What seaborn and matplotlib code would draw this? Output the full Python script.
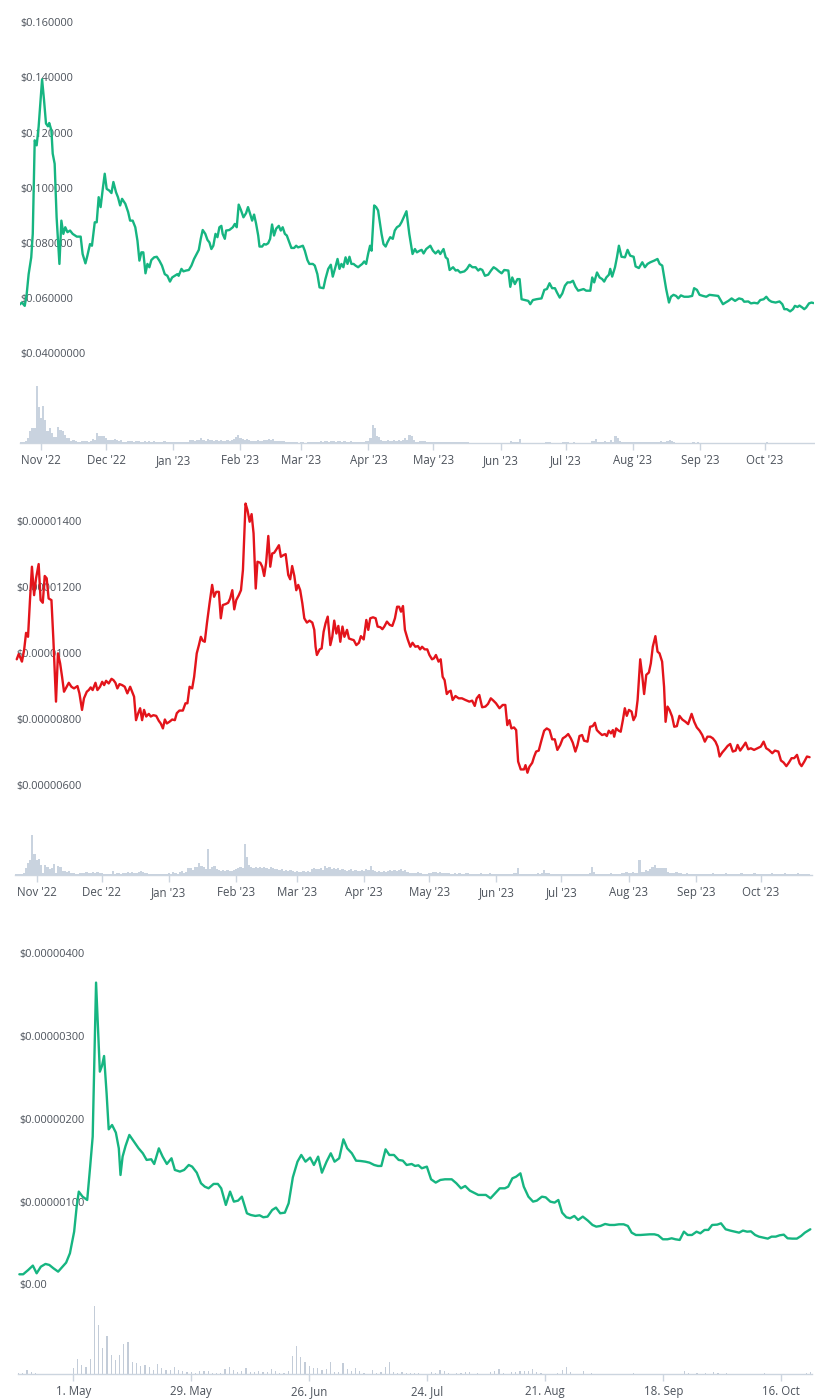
import numpy as np
import pandas as pd
import matplotlib
matplotlib.use("Agg")
import matplotlib.pyplot as plt
import matplotlib.dates as mdates
import seaborn as sns

# ---------------- DATA ----------------
# Panel 1 : price (USD), day offsets from 2022-10-22
P1_START = "2022-10-22"
P1_DAYS = [0, 1.2, 2.5, 3.4, 4.3, 5.5, 6.2, 7.1, 8.0, 8.9, 9.8, 10.5, 11.4, 12.3, 13.2, 13.8, 14.8, 15.4, 16.3, 17.2,
           18.5, 19.4, 20.3, 21.2, 22.2, 23.4, 24.6, 26.5, 28.3, 29.2, 30.5, 31.4, 32.6, 33.5, 34.8, 35.7, 36.6, 37.5,
           38.5, 39.4, 40.3, 41.5, 42.5, 43.4, 44.6, 45.5, 46.5, 47.4, 48.9, 50.2, 51.1, 52.3, 53.5, 54.5, 55.4, 56.3,
           57.2, 58.2, 59.1, 60.0, 60.9, 62.2, 63.4, 64.6, 65.8, 67.1, 68.3, 69.5, 70.5, 71.7, 72.9, 73.5, 74.8, 75.7,
           76.9, 78.2, 79.4, 80.6, 81.8, 82.8, 83.7, 84.6, 85.8, 86.8, 87.7, 88.6, 89.5, 90.5, 91.4, 92.3, 93.2, 93.8,
           94.8, 95.4, 96.9, 98.5, 99.4, 100.3, 101.2, 102.2, 103.4, 104.6, 105.5, 106.5, 107.4, 108.3, 109.2, 110.2,
           110.8, 112.0, 112.9, 113.8, 114.8, 115.7, 116.6, 117.5, 118.5, 119.7, 120.6, 121.5, 122.5, 123.4, 124.3,
           125.5, 126.8, 127.7, 128.6, 129.8, 130.8, 131.7, 132.9, 133.8, 135.4, 136.3, 137.5, 138.5, 140.3, 141.2,
           142.5, 143.7, 144.6, 145.8, 146.8, 147.7, 148.6, 149.5, 150.5, 151.4, 152.3, 153.2, 154.2, 155.1, 156.3,
           157.2, 158.2, 159.1, 160.0, 160.9, 161.8, 162.5, 163.7, 164.6, 165.5, 166.2, 167.1, 168.0, 169.0, 169.8,
           171.1, 172.3, 173.2, 174.2, 175.4, 176.3, 177.2, 178.6, 179.9, 181.4, 182.5, 183.4, 184.7, 185.6, 186.5,
           187.7, 189.6, 190.8, 192.0, 193.3, 194.2, 195.7, 196.7, 197.6, 198.5, 200.1, 201.3, 202.2, 203.4, 205.3,
           206.5, 207.7, 209.0, 210.5, 211.7, 212.6, 213.6, 214.8, 216.3, 217.6, 218.8, 220.0, 221.3, 222.5, 223.7,
           225.6, 226.5, 227.4, 228.6, 229.8, 230.8, 231.7, 233.2, 234.8, 235.7, 236.9, 238.5, 240.9, 242.2, 243.4,
           244.6, 245.8, 247.1, 248.0, 249.3, 250.5, 251.7, 252.9, 254.2, 255.4, 256.6, 257.8, 259.1, 260.3, 261.5,
           263.4, 264.3, 265.2, 266.5, 267.7, 268.9, 269.8, 270.8, 272.0, 272.6, 273.5, 274.8, 275.7, 276.6, 277.8,
           279.4, 280.6, 281.8, 283.4, 284.3, 285.8, 287.4, 288.6, 289.8, 291.1, 292.9, 294.4, 295.4, 296.6, 297.5,
           298.4, 299.7, 300.6, 301.8, 303.0, 304.0, 305.2, 306.7, 308.6, 310.4, 311.3, 312.6, 313.8, 315.4, 316.9,
           318.4, 320.6, 322.4, 323.7, 324.6, 325.8, 327.1, 328.6, 330.2, 332.0, 333.5, 334.4, 336.3, 337.5, 339.0,
           340.6, 341.8, 343.4, 344.6, 345.8, 347.0, 348.9, 350.7, 352.0, 352.9, 354.1, 355.6, 356.9, 357.8, 359.0,
           359.9, 361.2, 362.1, 363.0, 364.3, 365.5, 366.4]
P1_PRICE = [0.0576, 0.0584, 0.0572, 0.0615, 0.0687, 0.0748, 0.0833, 0.1172, 0.1154, 0.1221, 0.1318, 0.1393, 0.1318,
            0.1233, 0.1223, 0.1235, 0.1208, 0.1124, 0.1087, 0.0893, 0.0724, 0.0881, 0.0833, 0.0857, 0.0839, 0.0845,
            0.0833, 0.0823, 0.0823, 0.0760, 0.0726, 0.0754, 0.0796, 0.0790, 0.0875, 0.0875, 0.0966, 0.0930, 0.0996,
            0.1051, 0.0996, 0.0990, 0.0981, 0.1021, 0.0984, 0.0966, 0.0936, 0.0960, 0.0942, 0.0912, 0.0881, 0.0881,
            0.0857, 0.0808, 0.0736, 0.0766, 0.0766, 0.0690, 0.0724, 0.0712, 0.0738, 0.0748, 0.0750, 0.0736, 0.0718,
            0.0687, 0.0681, 0.0660, 0.0675, 0.0681, 0.0687, 0.0681, 0.0706, 0.0697, 0.0700, 0.0702, 0.0718, 0.0742,
            0.0760, 0.0775, 0.0815, 0.0847, 0.0833, 0.0811, 0.0802, 0.0778, 0.0790, 0.0833, 0.0821, 0.0857, 0.0862,
            0.0833, 0.0815, 0.0845, 0.0847, 0.0857, 0.0869, 0.0857, 0.0939, 0.0920, 0.0893, 0.0908, 0.0930, 0.0905,
            0.0881, 0.0903, 0.0871, 0.0827, 0.0787, 0.0787, 0.0796, 0.0794, 0.0799, 0.0815, 0.0867, 0.0827, 0.0852,
            0.0862, 0.0845, 0.0857, 0.0833, 0.0827, 0.0808, 0.0782, 0.0782, 0.0790, 0.0784, 0.0787, 0.0790, 0.0772,
            0.0738, 0.0724, 0.0724, 0.0718, 0.0687, 0.0639, 0.0636, 0.0669, 0.0706, 0.0721, 0.0678, 0.0712, 0.0742,
            0.0706, 0.0724, 0.0712, 0.0748, 0.0724, 0.0750, 0.0724, 0.0724, 0.0718, 0.0712, 0.0718, 0.0724, 0.0733,
            0.0724, 0.0760, 0.0790, 0.0772, 0.0936, 0.0930, 0.0918, 0.0881, 0.0833, 0.0796, 0.0787, 0.0802, 0.0821,
            0.0815, 0.0845, 0.0857, 0.0863, 0.0875, 0.0891, 0.0915, 0.0833, 0.0760, 0.0778, 0.0766, 0.0772, 0.0775,
            0.0762, 0.0778, 0.0790, 0.0772, 0.0762, 0.0772, 0.0760, 0.0778, 0.0748, 0.0742, 0.0702, 0.0712, 0.0700,
            0.0702, 0.0693, 0.0697, 0.0706, 0.0721, 0.0712, 0.0712, 0.0700, 0.0706, 0.0702, 0.0681, 0.0685, 0.0700,
            0.0712, 0.0706, 0.0697, 0.0690, 0.0702, 0.0700, 0.0641, 0.0675, 0.0651, 0.0669, 0.0669, 0.0596, 0.0593,
            0.0590, 0.0578, 0.0593, 0.0596, 0.0599, 0.0630, 0.0633, 0.0654, 0.0636, 0.0636, 0.0621, 0.0602, 0.0617,
            0.0645, 0.0657, 0.0657, 0.0663, 0.0641, 0.0627, 0.0630, 0.0633, 0.0627, 0.0627, 0.0675, 0.0657, 0.0693,
            0.0675, 0.0669, 0.0660, 0.0675, 0.0685, 0.0706, 0.0678, 0.0712, 0.0748, 0.0790, 0.0750, 0.0748, 0.0775,
            0.0754, 0.0750, 0.0715, 0.0709, 0.0730, 0.0712, 0.0724, 0.0730, 0.0736, 0.0742, 0.0724, 0.0718, 0.0675,
            0.0633, 0.0584, 0.0605, 0.0612, 0.0608, 0.0599, 0.0610, 0.0605, 0.0605, 0.0608, 0.0636, 0.0630, 0.0612,
            0.0608, 0.0605, 0.0612, 0.0610, 0.0608, 0.0590, 0.0578, 0.0584, 0.0590, 0.0599, 0.0590, 0.0599, 0.0596,
            0.0587, 0.0588, 0.0581, 0.0583, 0.0581, 0.0593, 0.0596, 0.0605, 0.0593, 0.0587, 0.0584, 0.0588, 0.0578,
            0.0560, 0.0560, 0.0552, 0.0560, 0.0572, 0.0568, 0.0573, 0.0566, 0.0560, 0.0566, 0.0581, 0.0584, 0.0582]
# Panel 1 : daily volume (relative units), day 0 = 2022-10-22
P1_VOL = [1, 1, 1, 2, 5, 12, 15, 15, 57, 36, 25, 37, 23, 12, 15, 10, 6, 6, 16, 13,
          12, 8, 5, 5, 2, 3, 2, 1, 1, 2, 2, 2, 1, 2, 4, 3, 10, 7, 7, 7,
          5, 3, 3, 3, 4, 3, 2, 3, 1, 1, 2, 2, 2, 1, 2, 2, 1, 1, 2, 1,
          2, 1, 2, 1, 1, 1, 1, 2, 1, 1, 1, 1, 1, 1, 1, 1, 1, 1, 1, 3,
          3, 2, 3, 3, 5, 3, 2, 4, 3, 3, 2, 3, 2, 3, 2, 2, 3, 2, 3, 4,
          6, 8, 5, 4, 3, 4, 3, 2, 2, 2, 3, 2, 2, 3, 3, 4, 3, 4, 2, 2,
          2, 2, 2, 1, 1, 1, 1, 1, 1, 0, 1, 1, 0, 1, 1, 1, 1, 1, 1, 2,
          1, 2, 2, 1, 2, 2, 1, 2, 2, 1, 2, 1, 1, 2, 1, 1, 1, 1, 1, 1,
          2, 2, 5, 18, 15, 7, 6, 3, 2, 2, 3, 2, 2, 3, 2, 3, 2, 3, 5, 3,
          8, 7, 3, 1, 1, 2, 2, 2, 1, 1, 1, 1, 1, 1, 1, 1, 1, 1, 1, 1,
          1, 1, 1, 1, 1, 1, 1, 1, 0, 0, 0, 0, 0, 0, 0, 0, 0, 0, 0, 0,
          0, 0, 0, 0, 0, 0, 0, 2, 1, 1, 1, 4, 0, 0, 0, 0, 0, 0, 0, 0,
          0, 0, 0, 1, 1, 1, 0, 0, 0, 0, 0, 1, 1, 1, 0, 0, 1, 0, 0, 0,
          0, 0, 0, 0, 2, 2, 4, 1, 1, 1, 2, 1, 1, 3, 1, 7, 5, 2, 1, 1,
          1, 1, 1, 1, 1, 1, 1, 1, 1, 1, 1, 1, 1, 1, 1, 1, 2, 1, 1, 2,
          3, 2, 1, 0, 0, 0, 0, 0, 0, 0, 0, 1, 0, 1, 0, 0, 0, 0, 0, 0,
          0, 0, 0, 0, 0, 0, 0, 0, 0, 0, 0, 0, 0, 0, 0, 0, 0, 0, 0, 0,
          0, 0, 0, 0, 0, 1, 0, 0, 0, 0, 0, 0, 0, 0, 0, 0, 0, 0, 0, 0,
          0, 0, 0, 0, 0, 0, 0]
P1_YTICKS = [0.16, 0.14, 0.12, 0.10, 0.08, 0.06, 0.04]
P1_YLABELS = ["$0.160000", "$0.140000", "$0.120000", "$0.100000", "$0.080000", "$0.060000", "$0.04000000"]

# Panel 2 : price in micro-USD (x 1e-6), day 0 = 2022-10-22
P2_START = "2022-10-22"
P2_DAYS = [0.8, 1.7, 2.6, 3.2, 4.2, 5.1, 6.0, 6.9, 7.8, 8.8, 9.7, 10.9, 11.8, 12.8, 13.7, 14.6, 15.5, 16.8, 17.7,
           18.9, 19.8, 20.8, 21.7, 22.6, 23.8, 24.8, 26.0, 27.2, 28.8, 29.7, 30.9, 31.8, 33.1, 34.0, 34.9, 35.8, 37.1,
           38.0, 39.2, 40.2, 41.1, 42.0, 43.2, 44.5, 45.4, 46.3, 47.2, 48.2, 49.4, 50.6, 51.8, 53.1, 54.0, 54.9, 55.8,
           56.8, 57.7, 58.6, 59.5, 60.5, 61.7, 62.6, 63.8, 65.1, 66.3, 67.2, 68.2, 69.1, 70.0, 71.2, 72.5, 73.7, 74.6,
           75.8, 77.4, 78.6, 79.5, 80.5, 81.7, 82.6, 83.8, 84.8, 85.7, 86.6, 87.5, 88.5, 89.7, 90.9, 91.8, 92.8, 94.0,
           94.9, 95.8, 97.1, 98.3, 99.2, 100.2, 101.1, 102.0, 103.2, 104.2, 105.1, 105.7, 106.3, 107.2, 108.2, 109.1,
           110.0, 111.0, 111.8, 113.1, 114.0, 114.9, 115.8, 116.8, 117.7, 118.6, 119.5, 120.5, 121.7, 122.6, 123.8,
           124.8, 126.0, 126.9, 127.8, 128.8, 129.7, 130.6, 131.5, 132.5, 133.4, 134.6, 135.8, 137.1, 138.0, 138.6,
           139.2, 140.5, 141.4, 142.3, 143.2, 144.2, 145.4, 146.3, 147.2, 148.2, 149.1, 150.0, 151.0, 151.9, 153.1,
           154.0, 155.2, 156.2, 157.4, 158.6, 159.5, 160.8, 162.0, 162.9, 163.8, 165.1, 166.3, 167.2, 168.5, 169.4,
           170.3, 171.5, 172.8, 174.0, 175.2, 176.2, 177.1, 178.0, 178.9, 179.8, 181.1, 182.3, 183.3, 184.6, 185.8,
           186.8, 187.7, 188.9, 190.1, 191.1, 192.3, 193.2, 194.1, 195.3, 196.3, 197.2, 198.1, 199.1, 200.0, 200.9,
           201.8, 203.1, 204.6, 206.1, 207.7, 209.5, 210.8, 212.0, 212.9, 214.1, 215.4, 216.9, 218.1, 219.4, 220.6,
           221.8, 223.4, 224.9, 226.1, 227.0, 228.0, 228.9, 230.1, 231.1, 232.0, 233.2, 234.7, 235.4, 236.3, 237.2,
           238.5, 239.4, 240.3, 241.5, 242.8, 244.0, 245.2, 246.5, 247.7, 248.9, 250.1, 251.4, 252.6, 253.8, 255.1,
           256.3, 257.2, 258.4, 259.4, 260.3, 261.5, 262.4, 264.0, 265.2, 266.4, 267.4, 268.3, 269.5, 270.7, 272.0,
           272.9, 273.8, 274.8, 275.7, 276.3, 277.2, 278.4, 279.3, 280.3, 281.2, 282.1, 283.1, 284.3, 285.2, 286.2,
           287.1, 288.3, 289.2, 290.1, 291.1, 292.3, 293.2, 294.1, 295.3, 296.3, 297.2, 298.4, 299.3, 300.0, 300.9,
           301.8, 303.0, 304.0, 305.2, 306.4, 307.7, 309.2, 310.4, 312.0, 313.2, 314.4, 315.7, 316.9, 318.1, 319.3,
           320.6, 321.8, 323.0, 324.0, 324.9, 326.1, 327.4, 328.6, 329.8, 331.0, 332.3, 333.2, 334.4, 335.7, 336.9,
           338.1, 339.3, 340.8, 342.4, 343.9, 345.2, 346.4, 347.6, 349.2, 350.4, 352.0, 353.2, 354.4, 355.7, 356.9,
           358.1, 359.3, 360.6, 361.8, 362.7, 364.0, 365.2, 366.4]
P2_PRICE_E6 = [9.81, 9.97, 9.84, 9.74, 10.09, 10.61, 10.49, 11.60, 12.61, 11.75, 12.26, 12.69, 11.60, 11.52, 12.33,
               12.26, 11.65, 11.60, 10.39, 8.53, 9.99, 9.69, 9.28, 8.83, 8.98, 9.10, 8.98, 8.93, 9.00, 8.78, 8.28,
               8.63, 8.83, 8.88, 8.96, 8.88, 9.10, 8.88, 8.98, 9.13, 9.03, 9.16, 9.08, 9.22, 9.18, 9.10, 8.93, 9.06,
               9.03, 8.98, 8.78, 8.98, 8.83, 8.68, 7.97, 8.18, 8.33, 7.97, 8.28, 8.08, 8.16, 8.08, 8.12, 8.10, 7.95,
               7.87, 7.72, 7.99, 7.87, 7.92, 7.99, 7.97, 8.18, 8.26, 8.26, 8.48, 8.48, 8.98, 8.93, 9.28, 9.99, 10.24,
               10.49, 10.37, 10.34, 10.90, 11.50, 12.06, 11.70, 11.85, 11.85, 11.05, 11.45, 11.48, 11.52, 11.65,
               11.90, 11.32, 11.60, 11.75, 11.90, 12.51, 13.52, 14.52, 14.32, 13.97, 14.20, 13.62, 11.95, 12.76,
               12.73, 12.61, 12.33, 12.73, 13.54, 12.61, 13.01, 13.03, 13.13, 13.26, 12.91, 12.96, 12.99, 12.36,
               12.23, 12.63, 12.33, 11.90, 12.06, 11.90, 11.50, 11.05, 10.92, 10.98, 10.92, 10.70, 10.19, 9.94,
               10.11, 10.14, 10.64, 10.90, 11.10, 10.24, 10.49, 10.98, 10.59, 10.82, 10.34, 10.80, 10.49, 10.70,
               10.44, 10.41, 10.39, 10.24, 10.31, 10.51, 10.41, 11.00, 10.70, 11.05, 11.08, 11.05, 10.80, 10.78,
               10.72, 10.80, 10.95, 10.85, 10.82, 11.05, 11.40, 11.40, 11.25, 11.42, 10.70, 10.41, 10.19, 10.31,
               10.19, 10.21, 10.11, 10.19, 10.11, 10.11, 9.94, 9.81, 9.84, 9.94, 9.74, 9.81, 9.28, 9.18, 8.76, 8.83,
               8.86, 8.58, 8.70, 8.63, 8.63, 8.58, 8.53, 8.56, 8.40, 8.63, 8.73, 8.36, 8.38, 8.46, 8.63, 8.56, 8.48,
               8.33, 8.43, 8.43, 7.82, 7.97, 7.72, 7.75, 7.67, 6.72, 6.48, 6.48, 6.61, 6.38, 6.56, 6.68, 6.87, 7.02,
               7.05, 7.37, 7.65, 7.72, 7.67, 7.39, 7.39, 7.07, 7.22, 7.42, 7.47, 7.55, 7.42, 7.29, 7.02, 7.22, 7.49,
               7.52, 7.35, 7.32, 7.77, 7.79, 7.89, 7.67, 7.59, 7.52, 7.55, 7.49, 7.65, 7.57, 7.67, 7.47, 7.72, 7.65,
               7.62, 7.97, 8.33, 8.10, 8.28, 8.23, 7.97, 8.10, 8.58, 9.81, 9.34, 8.76, 9.34, 9.41, 9.69, 10.19,
               10.51, 10.04, 9.99, 9.74, 8.98, 7.92, 8.38, 8.28, 8.08, 7.77, 7.79, 8.10, 7.99, 7.92, 7.85, 8.16,
               7.92, 7.75, 7.65, 7.52, 7.32, 7.47, 7.47, 7.42, 7.32, 7.17, 6.87, 6.99, 7.09, 7.19, 7.25, 7.02, 7.05,
               7.22, 7.05, 7.17, 7.29, 7.09, 7.12, 7.07, 7.12, 7.17, 7.32, 7.12, 7.07, 6.97, 7.05, 7.02, 6.75, 6.69,
               6.58, 6.69, 6.82, 6.82, 6.92, 6.66, 6.58, 6.72, 6.87, 6.85]
P2_VOL = [1, 1, 1, 1, 2, 7, 12, 15, 40, 21, 15, 16, 10, 2, 10, 8, 6, 7, 11, 2,
          9, 8, 4, 4, 3, 4, 2, 2, 1, 1, 2, 2, 2, 3, 2, 2, 3, 2, 3, 2,
          2, 1, 1, 1, 1, 4, 1, 2, 2, 1, 2, 2, 3, 2, 3, 2, 2, 3, 4, 3,
          2, 2, 1, 1, 1, 1, 1, 1, 1, 1, 1, 2, 1, 3, 2, 1, 3, 4, 2, 3,
          7, 7, 5, 8, 8, 12, 9, 8, 6, 26, 6, 8, 9, 6, 5, 4, 5, 4, 5, 4,
          4, 5, 6, 7, 8, 7, 31, 18, 10, 8, 7, 8, 7, 8, 7, 8, 7, 6, 8, 7,
          6, 6, 5, 6, 4, 5, 4, 5, 4, 3, 4, 3, 3, 4, 3, 4, 3, 6, 7, 6,
          6, 7, 5, 9, 7, 8, 6, 7, 6, 7, 5, 6, 5, 4, 5, 6, 4, 5, 4, 4,
          5, 4, 6, 5, 9, 5, 4, 3, 4, 3, 4, 3, 4, 5, 4, 5, 4, 5, 6, 4,
          5, 3, 2, 2, 2, 2, 3, 2, 1, 1, 1, 2, 2, 3, 3, 2, 3, 2, 2, 2,
          2, 1, 1, 2, 1, 2, 1, 1, 2, 2, 1, 1, 1, 1, 1, 2, 1, 1, 1, 2,
          1, 1, 1, 1, 1, 1, 1, 1, 1, 1, 2, 2, 7, 1, 1, 1, 1, 1, 1, 1,
          1, 2, 1, 2, 5, 2, 2, 1, 1, 1, 1, 1, 1, 1, 1, 1, 1, 1, 1, 1,
          1, 1, 1, 1, 1, 2, 8, 3, 1, 1, 1, 1, 1, 1, 1, 2, 1, 1, 1, 1,
          2, 2, 3, 2, 2, 3, 2, 2, 15, 3, 3, 5, 4, 6, 8, 10, 7, 7, 7, 7,
          7, 3, 2, 2, 2, 3, 2, 2, 1, 1, 2, 1, 1, 1, 1, 1, 1, 1, 1, 1,
          1, 1, 2, 1, 1, 1, 1, 1, 2, 1, 1, 1, 1, 1, 1, 2, 1, 1, 1, 1,
          1, 2, 1, 1, 1, 1, 1, 1, 1, 2, 1, 1, 1, 1, 1, 2, 1, 1, 1, 1,
          1, 2, 1, 1, 1, 1, 1]
P2_YTICKS_E6 = [14, 12, 10, 8, 6]
P2_YLABELS = ["$0.00001400", "$0.00001200", "$0.00001000", "$0.00000800", "$0.00000600"]

MONTH_TICKS = ["2022-11-01", "2022-12-01", "2023-01-01", "2023-02-01", "2023-03-01", "2023-04-01",
               "2023-05-01", "2023-06-01", "2023-07-01", "2023-08-01", "2023-09-01", "2023-10-01"]
MONTH_LABELS = ["Nov '22", "Dec '22", "Jan '23", "Feb '23", "Mar '23", "Apr '23",
                "May '23", "Jun '23", "Jul '23", "Aug '23", "Sep '23", "Oct '23"]

# Panel 3 : price in micro-USD (x 1e-6), day 0 = 2023-04-18
P3_START = "2023-04-18"
P3_DAYS = [0.2, 1.1, 2.3, 3.4, 4.3, 5.3, 6.4, 7.3, 8.3, 9.4, 10.3, 11.3, 12.2, 13.2, 13.8, 14.3, 15.2, 16.3, 17.0,
           17.6, 18.4, 19.3, 19.8, 20.3, 20.9, 21.4, 22.2, 23.1, 23.8, 24.2, 24.7, 25.4, 26.3, 27.4, 28.5, 29.5, 30.4,
           31.5, 32.2, 33.3, 34.2, 35.2, 36.3, 37.1, 38.3, 39.3, 40.4, 41.2, 42.3, 43.3, 44.2, 45.1, 46.3, 47.3, 48.1,
           49.2, 50.2, 51.1, 52.1, 53.0, 54.2, 55.1, 56.2, 57.2, 58.1, 59.1, 60.2, 61.1, 62.1, 63.2, 64.1, 65.1, 66.2,
           67.1, 68.1, 69.2, 70.1, 71.1, 72.0, 73.1, 74.1, 75.0, 76.1, 77.1, 78.0, 79.1, 80.1, 81.2, 82.3, 83.3, 84.4,
           85.3, 86.1, 87.1, 88.0, 89.1, 90.2, 91.2, 92.1, 93.3, 94.1, 94.9, 95.7, 96.9, 97.9, 99.0, 100.1, 101.2,
           102.8, 103.9, 105.0, 106.0, 107.1, 108.0, 109.1, 110.9, 112.0, 113.1, 114.2, 115.4, 116.2, 117.2, 118.1,
           119.1, 119.9, 121.0, 122.1, 123.0, 124.2, 125.1, 126.2, 127.2, 128.1, 129.0, 130.0, 130.9, 131.9, 132.8,
           133.9, 135.1, 136.2, 137.1, 138.1, 139.2, 140.3, 141.4, 142.5, 143.6, 144.6, 145.5, 146.5, 147.6, 148.7,
           149.8, 150.9, 151.8, 152.9, 154.0, 155.0, 155.9, 156.9, 157.9, 158.8, 159.8, 160.9, 161.8, 162.8, 163.7,
           164.6, 165.8, 166.7, 167.8, 168.9, 170.0, 171.0, 171.9, 172.9, 173.8, 174.8, 175.7, 176.8, 177.8, 178.7,
           179.7, 180.6, 181.6, 182.5, 183.6, 184.7, 185.7, 186.6, 187.9]
P3_PRICE_E6 = [0.121, 0.121, 0.173, 0.226, 0.133, 0.213, 0.246, 0.234, 0.193, 0.153, 0.205, 0.262, 0.375, 0.636,
               0.939, 1.120, 1.059, 1.019, 1.422, 1.784, 3.646, 2.570, 2.638, 2.759, 2.308, 1.873, 1.925, 1.833,
               1.643, 1.321, 1.543, 1.672, 1.805, 1.724, 1.643, 1.583, 1.503, 1.511, 1.454, 1.643, 1.543, 1.454,
               1.523, 1.382, 1.362, 1.382, 1.442, 1.422, 1.349, 1.221, 1.180, 1.160, 1.213, 1.213, 1.160, 0.959,
               1.120, 0.999, 1.011, 1.059, 0.858, 0.838, 0.826, 0.834, 0.810, 0.818, 0.898, 0.927, 0.858, 0.866,
               0.979, 1.293, 1.482, 1.563, 1.482, 1.531, 1.442, 1.543, 1.349, 1.482, 1.583, 1.482, 1.523, 1.752,
               1.643, 1.583, 1.494, 1.490, 1.482, 1.470, 1.442, 1.430, 1.430, 1.631, 1.563, 1.563, 1.503, 1.494,
               1.442, 1.454, 1.430, 1.438, 1.402, 1.422, 1.269, 1.229, 1.261, 1.269, 1.269, 1.221, 1.160, 1.188,
               1.132, 1.108, 1.080, 1.080, 1.039, 1.100, 1.160, 1.160, 1.180, 1.281, 1.301, 1.341, 1.180, 1.059,
               0.999, 1.011, 1.059, 1.051, 0.999, 0.987, 1.019, 0.866, 0.810, 0.798, 0.826, 0.778, 0.818, 0.770,
               0.717, 0.697, 0.705, 0.729, 0.717, 0.717, 0.725, 0.725, 0.705, 0.624, 0.596, 0.596, 0.600, 0.604,
               0.604, 0.592, 0.544, 0.544, 0.556, 0.544, 0.536, 0.636, 0.596, 0.596, 0.636, 0.616, 0.657, 0.657,
               0.717, 0.721, 0.737, 0.665, 0.649, 0.636, 0.624, 0.649, 0.636, 0.640, 0.596, 0.576, 0.564, 0.552,
               0.576, 0.576, 0.592, 0.600, 0.556, 0.552, 0.552, 0.584, 0.624, 0.665]
P3_VOL_DAYS = [0, 1, 2, 3, 4, 13, 14, 15, 16, 17, 18, 19, 20, 21, 22, 23, 24, 25, 26, 27, 28, 29, 30, 31, 32, 33, 34,
               35, 36, 37, 38, 39, 40, 41, 42, 43, 44, 45, 46, 47, 48, 49, 50, 51, 52, 53, 54, 55, 56, 57, 58, 59, 60,
               61, 62, 63, 64, 65, 66, 67, 68, 69, 70, 71, 72, 73, 74, 75, 76, 77, 78, 79, 80, 81, 82, 84, 85, 86, 87,
               88, 89, 90, 91, 92, 93, 94, 95, 98, 99, 100, 101, 102, 104, 105, 106, 107, 109, 112, 113, 114, 115,
               117, 118, 119, 120, 121, 122, 123, 124, 128, 129, 130, 131, 134, 136, 146, 158, 159, 161, 163, 165,
               166, 168, 177, 187, 188]
P3_VOL = [1, 1, 4, 2, 1, 6, 15, 9, 7, 15, 68, 49, 26, 38, 19, 14, 19, 30, 32, 12, 11, 8, 9, 7, 4, 10, 6,
          4, 4, 7, 4, 3, 2, 2, 1, 3, 3, 3, 1, 1, 1, 5, 7, 4, 2, 3, 6, 2, 2, 3, 2, 2, 5,
          3, 1, 1, 3, 18, 28, 17, 12, 8, 6, 6, 4, 5, 12, 2, 2, 11, 5, 3, 6, 3, 1, 4, 1, 2, 7,
          12, 2, 1, 2, 1, 1, 1, 1, 2, 1, 4, 3, 1, 1, 1, 2, 2, 1, 2, 3, 5, 1,
          2, 2, 3, 3, 3, 5, 2, 1, 1, 4, 7, 2, 3, 1, 1, 3, 1, 1, 1, 2,
          1, 1, 1, 1, 2]
P3_YTICKS_E6 = [4, 3, 2, 1, 0]
P3_YLABELS = ["$0.00000400", "$0.00000300", "$0.00000200", "$0.00000100", "$0.00"]
P3_XTICKS = ["2023-05-01", "2023-05-29", "2023-06-26", "2023-07-24", "2023-08-21", "2023-09-18", "2023-10-16"]
P3_XLABELS = ["1. May", "29. May", "26. Jun", "24. Jul", "21. Aug", "18. Sep", "16. Oct"]

# ---------------- STYLE ----------------
GREEN = "#16b581"
RED = "#e3141b"
VOL_COLOR = "#c9d3df"
AXIS_COLOR = "#ccd5df"
TEXT_COLOR = "#4c525b"

sns.set_theme(style="white")
plt.rcParams["font.family"] = ["Open Sans", "DejaVu Sans"]

W, H = 815, 1400
fig = plt.figure(figsize=(W / 100, H / 100), dpi=100)


def add_ax(left, right, top, bottom):
    return fig.add_axes([left / W, 1 - bottom / H, (right - left) / W, (bottom - top) / H])


def to_num(start, days):
    return mdates.date2num(pd.Timestamp(start)) + np.asarray(days, dtype=float)


def clean(ax):
    for s in ax.spines.values():
        s.set_visible(False)
    ax.set_xlabel("")
    ax.set_ylabel("")
    ax.patch.set_alpha(0)
    ax.grid(False)


def price_panel(ax, x, y, color, xlim, ylim, yticks, ylabels, pad):
    sns.lineplot(x=x, y=y, ax=ax, color=color, linewidth=1.7, estimator=None, sort=False)
    ax.set_xlim(*xlim)
    ax.set_ylim(*ylim)
    clean(ax)
    ax.set_xticks([])
    ax.set_yticks(yticks, labels=ylabels)
    ax.tick_params(axis="y", length=0, pad=-pad, labelsize=7.9, labelcolor=TEXT_COLOR)
    for lab in ax.get_yticklabels():
        lab.set_horizontalalignment("left")


def volume_panel(ax, x, v, width, xlim, ymax, ticks, labels, color):
    ax.bar(x, v, width=width, color=color, linewidth=0, align="center")
    ax.set_xlim(*xlim)
    ax.set_ylim(0, ymax)
    clean(ax)
    ax.spines["bottom"].set_visible(True)
    ax.spines["bottom"].set_color(AXIS_COLOR)
    ax.spines["bottom"].set_linewidth(1.0)
    ax.set_yticks([])
    ax.set_xticks(mdates.date2num(pd.to_datetime(ticks)), labels=labels)
    ax.tick_params(axis="x", direction="out", length=5, width=1, color=AXIS_COLOR,
                   labelsize=8.3, labelcolor=TEXT_COLOR, pad=2.8, bottom=True)


# ---- Panel 1 ----
nov1 = mdates.date2num(pd.Timestamp("2022-11-01"))
oct1 = mdates.date2num(pd.Timestamp("2023-10-01"))
ppd1 = (765 - 41) / (oct1 - nov1)
xlim1 = (nov1 - (41 - 20) / ppd1, nov1 + (814 - 41) / ppd1)
ax1 = add_ax(20, 814, 22.3, 353.3)
price_panel(ax1, to_num(P1_START, P1_DAYS), P1_PRICE, GREEN, xlim1, (0.04, 0.16),
            P1_YTICKS, P1_YLABELS, 0.5)
ax1v = add_ax(20, 814, 383, 443)
volume_panel(ax1v, to_num(P1_START, np.arange(len(P1_VOL))), P1_VOL, 1.0, xlim1, 60,
             MONTH_TICKS, MONTH_LABELS, VOL_COLOR)

# ---- Panel 2 ----
ppd2 = (761 - 36.7) / (oct1 - nov1)
xlim2 = (nov1 - (36.7 - 15) / ppd2, nov1 + (812 - 36.7) / ppd2)
ax2 = add_ax(15, 812, 500.9, 785.3)
price_panel(ax2, to_num(P2_START, P2_DAYS), np.array(P2_PRICE_E6) * 1e-6, RED, xlim2,
            (6e-6, 14.6e-6), np.array(P2_YTICKS_E6) * 1e-6, P2_YLABELS, 1.2)
ax2v = add_ax(15, 812, 833, 875)
volume_panel(ax2v, to_num(P2_START, np.arange(len(P2_VOL))), P2_VOL, 1.0, xlim2, 42,
             MONTH_TICKS, MONTH_LABELS, VOL_COLOR)

# ---- Panel 3 ----
may1 = mdates.date2num(pd.Timestamp("2023-05-01"))
ppd3 = 4.214
xlim3 = (may1 - (73.3 - 18) / ppd3, may1 + (812 - 73.3) / ppd3)
ax3 = add_ax(18, 812, 953.3, 1284.3)
price_panel(ax3, to_num(P3_START, P3_DAYS), np.array(P3_PRICE_E6) * 1e-6, GREEN, xlim3,
            (0, 4e-6), np.array(P3_YTICKS_E6) * 1e-6, P3_YLABELS, 0.7)
ax3v = add_ax(18, 812, 1304, 1374)
volume_panel(ax3v, to_num(P3_START, P3_VOL_DAYS), P3_VOL, 0.28, xlim3, 70,
             P3_XTICKS, P3_XLABELS, "#c3ccd8")

fig.savefig("out.png", dpi=100, facecolor="white")
